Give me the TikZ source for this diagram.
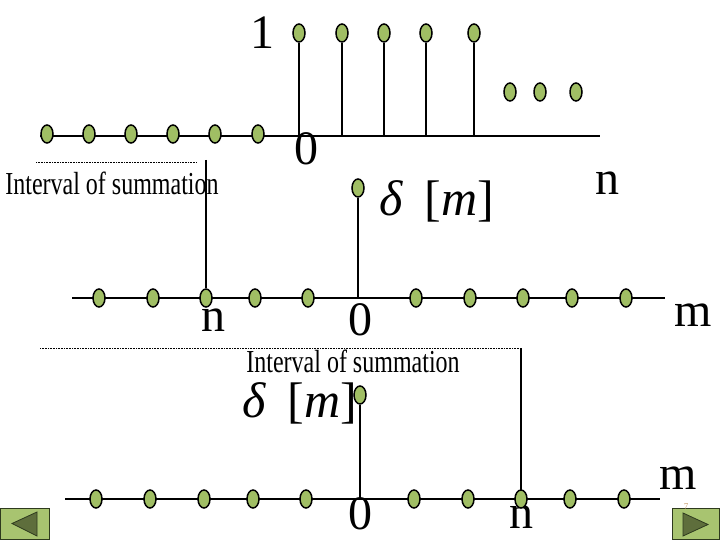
\documentclass[tikz,border=0pt]{standalone}
\usepackage{fontspec}
\setmainfont{Liberation Serif}
\usetikzlibrary{shapes.geometric}
\definecolor{dotgreen}{HTML}{A0BE64}
\definecolor{btnfill}{HTML}{A8C470}
\definecolor{btnedge}{HTML}{2E3A1E}
\definecolor{btntri}{HTML}{5E6E3C}
\definecolor{pagenum}{HTML}{C8A070}
\begin{document}
\begin{tikzpicture}[x=1pt,y=-1pt,
  sdot/.style={ellipse,draw=black,line width=1.5pt,fill=dotgreen,minimum width=12pt,minimum height=18pt,inner sep=0pt},
  axis/.style={line width=2pt},
  stem/.style={line width=1.8pt},
  dotline/.style={line width=0.8pt,dash pattern=on 0.8pt off 0.8pt},
  lbl/.style={font=\fontsize{48}{52}\selectfont,inner sep=0pt},
  intv/.style={font=\fontsize{32}{36}\selectfont,inner sep=0pt},
  dlt/.style={font=\fontsize{50}{54}\selectfont,inner sep=0pt},
  btn/.style={fill=btnfill,draw=btnedge,line width=1pt},
  btntr/.style={fill=btntri,draw=btnedge,line width=0.8pt}]
\useasboundingbox (0,0) rectangle (720,540);
% ---------- top plot ----------
\coordinate (tA) at (40,136);
\coordinate (tB) at (600,136);
\draw[axis] (tA) -- (tB);
\foreach \i/\x in {1/47,2/89,3/131,4/173,5/215,6/258}
  \node[sdot] (td\i) at (\x,134) {};
\foreach \i/\x in {0/299,1/342,2/384,3/426,4/474}{
  \coordinate (tb\i) at (\x,136);
  \node[sdot] (ts\i) at (\x,33) {};
  \draw[stem] (tb\i) -- (ts\i.south);
}
\foreach \i/\x in {1/510,2/540,3/576}
  \node[sdot] (te\i) at (\x,92) {};
\node[lbl] (one) at (262,33) {1};
\node[lbl] (tzero) at (306,149) {0};
\node[lbl] (tn) at (607,183) {n};
% interval 1
\coordinate (d1a) at (36,162);
\coordinate (d1b) at (197,162);
\draw[dotline] (d1a) -- (d1b);
\node[intv] (int1) at (112,183) {\scalebox{0.75}[1]{Interval of summation}};
% ---------- middle plot ----------
\coordinate (mA) at (72,298);
\coordinate (mB) at (665,298);
\draw[axis] (mA) -- (mB);
\coordinate (mb0) at (358,298);
\node[sdot] (ms0) at (358,188) {};
\draw[stem] (mb0) -- (ms0.south);
\coordinate (ntop) at (206,160);
\foreach \i/\x in {1/99,2/153,3/206,4/255,5/308,6/416,7/470,8/523,9/572,10/626}
  \node[sdot] (md\i) at (\x,298) {};
\draw[stem] (ntop) -- (md3.north);
\node[dlt] (mdelta) at (437,201) {\textit{δ}\, [\textit{m}]};
\node[lbl] (mn) at (213,320) {n};
\node[lbl] (mzero) at (360,320) {0};
\node[lbl] (mm) at (693,315) {m};
% interval 2
\coordinate (d2a) at (40,348);
\coordinate (d2b) at (521,348);
\draw[dotline] (d2a) -- (d2b);
\node[intv] (int2) at (353,361) {\scalebox{0.75}[1]{Interval of summation}};
% ---------- bottom plot ----------
\coordinate (bA) at (65,499);
\coordinate (bB) at (660,499);
\draw[axis] (bA) -- (bB);
\coordinate (bb0) at (360,499);
\node[sdot] (bs0) at (360,395) {};
\draw[stem] (bb0) -- (bs0.south);
\coordinate (btop) at (521,348);
\draw[stem] (btop) -- (521,490);
\node[lbl] (bzero) at (360,514) {0};
\node[lbl] (bn) at (521,517) {n};
\foreach \i/\x in {1/96,2/150,3/204,4/253,5/306,6/414,7/468,8/521,9/570,10/624}
  \node[sdot] (bd\i) at (\x,499) {};
\node[dlt] (bdelta) at (300,403) {\textit{δ}\, [\textit{m}]};
\node[lbl] (bm) at (678,478) {m};
% ---------- navigation buttons ----------
\draw[btn] (0.5,508) rectangle (49,539.5);
\draw[btntr] (12,523.5) -- (37,512) -- (37,536) -- cycle;
\draw[btn] (672,508) rectangle (719.5,539.5);
\draw[btntr] (683,513) -- (708,524.5) -- (683,536) -- cycle;
\node[font=\fontsize{9}{10}\selectfont,text=pagenum,inner sep=0pt] (pg) at (686,507) {7};
\end{tikzpicture}
\end{document}
